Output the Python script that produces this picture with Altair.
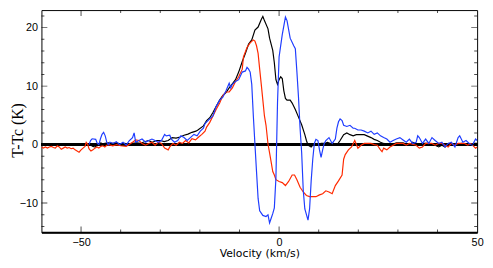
import altair as alt
import pandas as pd

# ---- data ----
black_v = [-48.0, -47.5, -47.0, -46.5, -46.0, -45.5, -45.0, -44.5, -44.0, -43.0, -42.0, -41.0, -40.0, -39.0,
           -38.0, -37.0, -36.0, -35.0, -34.0, -33.0, -32.0, -31.0, -30.0, -29.0, -28.0, -27.0, -26.0, -25.0,
           -24.0, -23.0, -22.0, -21.0, -20.5, -19.1, -18.3, -17.5, -16.7, -15.9, -15.0, -14.2, -13.4, -12.6,
           -11.8, -11.0, -10.2, -9.3, -8.5, -7.7, -6.9, -6.1, -5.3, -4.5, -4.1, -3.7, -2.8, -2.4, -1.6, -1.2,
           -0.8, -0.4, 0.0, 0.4, 0.8, 1.2, 1.6, 2.0, 2.8, 3.3, 4.1, 4.9, 5.7, 6.5, 6.9, 7.3, 8.1, 8.9, 9.8,
           10.6, 11.4, 12.2, 13.0, 13.8, 14.6, 15.4, 16.3, 17.1, 17.9, 18.7, 19.5, 20.3, 21.5, 23.2, 24.0,
           24.8, 25.6, 26.4, 28.0, 29.6, 31.3, 32.9, 33.7, 35.4, 36.2, 37.8, 39.4, 40.3, 41.1, 41.9, 42.7,
           44.4, 46.0, 47.6, 49.2, 50.0]
black_t = [0.0, -0.1, -0.3, -0.4, -0.2, 0.1, 0.3, 0.1, 0.2, 0.3, 0.2, 0.3, 0.1, 0.2,
           0.1, 0.2, 0.3, 0.2, 0.5, 0.7, 0.4, 0.7, 0.7, 0.5, 0.7, 1.2, 1.1, 1.3,
           1.6, 1.8, 2.1, 2.3, 2.5, 3.2, 4.1, 4.6, 5.5, 6.5, 7.6, 8.4, 8.9, 9.7,
           10.4, 11.1, 12.4, 14.2, 15.6, 17.2, 17.9, 19.6, 20.1, 21.4, 21.9, 21.2, 19.8, 18.2, 16.1, 14.0,
           11.1, 10.3, 11.1, 11.6, 11.3, 9.2, 7.9, 7.6, 7.6, 7.1, 6.0, 4.7, 3.4, 1.7, 0.7, -0.1, -0.4, 0.2, -0.1,
           0.2, 0.2, 0.4, 0.2, 0.2, -0.1, 0.7, 1.7, 2.0, 1.7, 1.5, 1.7, 1.7, 1.7, 1.2, 0.9,
           0.7, 0.4, 0.2, -0.1, 0.3, 0.3, -0.1, 0.4, -0.1, 0.2, 0.2, -0.1, -0.4, -0.1, -0.4, 0.2,
           -0.1, 0.2, -0.1, 0.2, 0.2]

red_v = [-60.0, -59.5, -59.0, -58.5, -58.0, -57.5, -57.0, -56.5, -56.0, -55.5, -55.0, -54.5, -54.0, -53.5,
         -53.0, -52.5, -52.0, -51.5, -51.0, -50.5, -50.0, -49.5, -49.0, -48.7, -48.3, -48.0, -47.5, -47.0,
         -46.5, -46.0, -45.5, -45.0, -44.5, -44.0, -43.5, -43.0, -42.0, -41.0, -40.0, -38.6, -37.0, -36.2,
         -35.4, -34.6, -33.7, -32.9, -32.1, -31.3, -30.5, -29.7, -28.9, -28.0, -27.6, -26.8, -26.0, -25.2,
         -24.4, -23.6, -22.8, -22.0, -21.1, -20.3, -19.5, -18.7, -18.3, -17.5, -16.7, -15.9, -15.0, -14.2,
         -13.4, -12.6, -11.8, -11.0, -10.2, -9.3, -9.0, -8.1, -7.3, -6.5, -6.1, -5.7, -5.3, -4.9, -4.5, -4.1,
         -3.7, -3.3, -2.8, -2.4, -2.0, -1.6, -1.2, -0.8, 0.0, 0.8, 1.6, 2.4, 3.3, 3.9, 4.5, 5.3, 6.1, 6.9,
         7.7, 9.3, 10.2, 11.0, 11.8, 12.6, 13.4, 14.2, 15.0, 15.9, 16.3, 16.7, 17.5, 18.3, 19.1, 19.9, 20.7,
         21.5, 23.2, 24.0, 24.8, 25.6, 26.0, 26.4, 27.2, 28.0, 28.8, 29.6, 31.3, 32.1, 32.9, 34.6, 35.4,
         36.2, 37.0, 38.6, 39.4, 40.3, 41.1, 41.9, 42.7, 43.5, 44.4, 45.2, 46.8, 47.6, 48.4, 49.6, 50.0]
red_t = [-0.4, -0.6, -0.4, -0.6, -0.4, -0.3, -0.5, -0.6, -0.2, -0.4, -0.8, -0.6, -0.4, -0.6,
         -0.5, -0.7, -0.6, -0.9, -1.1, -1.3, -0.9, -0.6, -0.3, 0.4, 0.0, -0.7, -1.1, -0.9,
         -0.6, -0.4, -0.6, -0.3, -0.2, -0.4, -0.1, 0.0, -0.2, 0.0, -0.2, -0.3, 0.4, 0.8,
         0.7, 0.2, -0.1, 0.2, 0.4, -0.1, 0.4, 0.2, -0.6, -0.9, -0.4, 0.2, -0.1, 0.4,
         0.2, 0.7, 0.3, 1.0, 0.8, 1.3, 1.75, 2.3, 3.0, 3.8, 4.9, 6.0, 7.1, 8.4,
         9.0, 9.0, 9.7, 10.8, 11.6, 12.9, 15.0, 16.6, 17.4, 17.9, 17.7, 16.9, 15.6, 12.9, 10.3, 7.6,
         4.9, 3.3, 0.1, -1.4, -3.0, -4.6, -5.2, -6.0, -6.3, -6.5, -7.0, -6.3, -5.2, -5.2, -6.0, -7.3, -8.1, -8.7,
         -8.9, -8.9, -8.6, -8.4, -7.9, -8.1, -8.4, -7.0, -6.2, -5.2, -2.5, -1.7, -0.9, -0.4, 0.7, -0.6, -0.1,
         0.2, 0.2, 0.0, -0.1, -0.9, -1.2, -0.6, -0.9, -0.4, -0.1, 0.2, 0.2, -0.1, 0.2, -0.1, -0.6,
         -0.4, 0.2, 0.2, -0.1, 0.2, 0.2, -0.1, -0.4, 0.2, -0.1, 0.2, 0.2, -0.1, 0.2, -0.6, -0.4]

blue_v = [-48.0, -47.6, -47.2, -46.3, -45.9, -45.5, -45.1, -44.7, -44.3, -43.9, -43.5, -43.1, -42.7, -41.9,
          -41.1, -40.3, -39.4, -38.6, -37.8, -37.0, -36.6, -36.2, -35.4, -34.6, -33.7, -32.9, -32.1, -31.3,
          -30.5, -29.7, -28.9, -28.5, -27.6, -27.2, -26.4, -25.6, -24.8, -24.0, -23.2, -22.4, -21.5, -20.7,
          -19.9, -19.1, -18.7, -17.5, -16.7, -15.9, -15.0, -14.2, -13.4, -12.6, -12.2, -11.8, -11.0, -10.2,
          -9.3, -8.5, -8.1, -7.7, -7.3, -6.9, -6.5, -6.1, -5.7, -5.3, -4.9, -4.1, -3.3, -2.8, -2.4, -2.0,
          -1.6, -1.2, -0.8, -0.4, 0.0, 0.8, 1.6, 2.0, 2.8, 3.7, 4.1, 4.5, 4.9, 5.3, 5.7, 6.1, 6.5, 7.3,
          7.7, 8.1, 8.5, 8.9, 9.3, 9.8, 10.2, 10.6, 11.0, 11.4, 11.8, 12.6, 13.4, 14.2, 14.6, 15.0, 15.4,
          15.9, 16.3, 17.1, 17.9, 18.7, 19.1, 19.9, 20.7, 21.5, 22.4, 23.2, 24.0, 24.8, 25.6, 26.4, 27.2,
          28.0, 28.8, 29.6, 30.5, 31.3, 32.1, 32.9, 33.7, 34.6, 35.0, 35.4, 36.2, 37.0, 37.8, 38.6, 39.4,
          40.3, 41.1, 41.9, 42.7, 43.5, 44.4, 45.2, 45.6, 46.4, 47.2, 48.0, 48.8, 49.6, 50.0]
blue_t = [0.0, 0.7, 1.0, 0.9, 0.2, 0.0, 1.0, 1.75, 2.1, 1.5, 0.4, 0.0, 0.4, 0.2,
          0.5, 0.0, 0.4, -0.1, 0.7, 1.2, 2.0, 0.4, 0.7, 0.95, 0.4, 0.7, 0.95, 0.7,
          0.4, 0.7, 1.75, 1.5, 1.6, 0.95, 0.4, 0.7, 1.5, 1.2, 0.7, 1.2, 1.75, 1.5,
          2.3, 2.8, 3.6, 4.4, 4.9, 6.5, 7.6, 8.1, 9.2, 10.5, 9.7, 10.3, 10.8, 11.1,
          12.4, 12.6, 13.2, 12.9, 12.4, 10.3, 4.9, 0.1, -4.6, -9.2, -11.3, -12.1, -12.3, -12.0, -13.4, -12.6,
          -11.8, -10.8, -5.7, 7.1, 15.0, 18.8, 21.8, 21.2, 18.2, 16.9, 16.4, 12.4, 8.1, 2.8, -1.4, -7.8, -11.0, -12.9,
          -11.0, -6.2, -2.5, 0.2, 0.9, 0.7, -0.9, -2.2, -0.9, 0.2, 0.7, 1.2, 0.2, 0.95, 2.8, 3.9, 4.4,
          4.1, 3.3, 3.1, 3.3, 2.8, 2.8, 2.5, 2.5, 2.3, 2.0, 2.3, 1.75, 2.0, 1.5, 1.2, 0.95,
          0.4, 0.7, 0.95, 1.2, 0.8, 0.4, 0.95, 0.2, 0.4, 1.5, 1.2, 0.2, 0.95, 0.2, 1.2, 0.7,
          0.2, 0.4, -0.4, 0.2, 0.4, -0.4, 1.2, 1.5, 0.4, 0.7, 0.2, -0.1, 0.95, 0.7]

x_tick_values = [-50, -40, -30, -20, -10, 0, 10, 20, 30, 40]
x_major = [-50, 0, 50]
y_tick_values = [-14, -12, -10, -8, -6, -4, -2, 0, 2, 4, 6, 8, 10, 12, 14, 16, 18, 20, 22]
y_major = [-10, 0, 10, 20]

X_DOM = [-60, 50]
Y_DOM = [-15, 23]

rows = []
for name, vs, ts in [("black", black_v, black_t), ("red", red_v, red_t), ("blue", blue_v, blue_t)]:
    for v, t in zip(vs, ts):
        rows.append({"v": v, "t": t, "s": name})
df = pd.DataFrame(rows)

xt = pd.DataFrame({"pos": x_tick_values,
                   "len": [12 if p in x_major else 6 for p in x_tick_values]})
yt = pd.DataFrame({"pos": y_tick_values,
                   "len": [12 if p in y_major else 6 for p in y_tick_values]})

xscale = alt.Scale(domain=X_DOM, nice=False, zero=False)
yscale = alt.Scale(domain=Y_DOM, nice=False, zero=False)

xaxis = alt.Axis(values=x_major, ticks=False, grid=False, labelFlush=False,
                 labelFont="Liberation Sans", labelFontSize=11, labelColor="black", labelPadding=4,
                 domainColor="black", domainWidth=2,
                 title="Velocity (km/s)", titleFont="DejaVu Sans", titleFontSize=11,
                 titleFontWeight="normal", titleColor="black", titlePadding=1)
yaxis = alt.Axis(values=y_major, ticks=False, grid=False, domain=False,
                 labelFont="Liberation Sans", labelFontSize=11, labelColor="black", labelPadding=4,
                 title="T-Tc (K)", titleFont="Liberation Serif", titleFontSize=16,
                 titleFontWeight="normal", titleColor="black", titleAngle=270,
                 titleX=-24, titleY=122, titleAlign="center", titleBaseline="middle")

zero = alt.Chart(df).mark_rule(color="black", strokeWidth=2.5).encode(
    y=alt.datum(0, scale=yscale)
)

def series(name, color):
    return alt.Chart(df[df.s == name]).mark_line(color=color, strokeWidth=1.2, clip=True).encode(
        x=alt.X("v:Q", scale=xscale, axis=xaxis),
        y=alt.Y("t:Q", scale=yscale, axis=yaxis),
        order="v:Q",
    )

def xticks(edge):
    return alt.Chart(xt).mark_tick(orient="vertical", color="black", thickness=1, clip=True).encode(
        x=alt.X("pos:Q", scale=xscale),
        y=alt.datum(edge),
        size=alt.Size("len:Q", scale=None),
    )

def yticks(edge):
    return alt.Chart(yt).mark_tick(orient="horizontal", color="black", thickness=1, clip=True).encode(
        y=alt.Y("pos:Q", scale=yscale),
        x=alt.datum(edge),
        size=alt.Size("len:Q", scale=None),
    )

chart = alt.layer(
    series("black", "#000000"),
    zero,
    series("red", "#ff2a00"),
    series("blue", "#1f3dff"),
    xticks(Y_DOM[0]), xticks(Y_DOM[1]),
    yticks(X_DOM[0]), yticks(X_DOM[1]),
).properties(
    width=443, height=226,
    autosize=alt.AutoSizeParams(type="none"),
    padding={"left": 34, "top": 0, "right": 8, "bottom": 26},
    background="white",
).configure_view(stroke="black", strokeWidth=1)

chart.save("out.html", embed_options={"renderer": "svg", "actions": False})
